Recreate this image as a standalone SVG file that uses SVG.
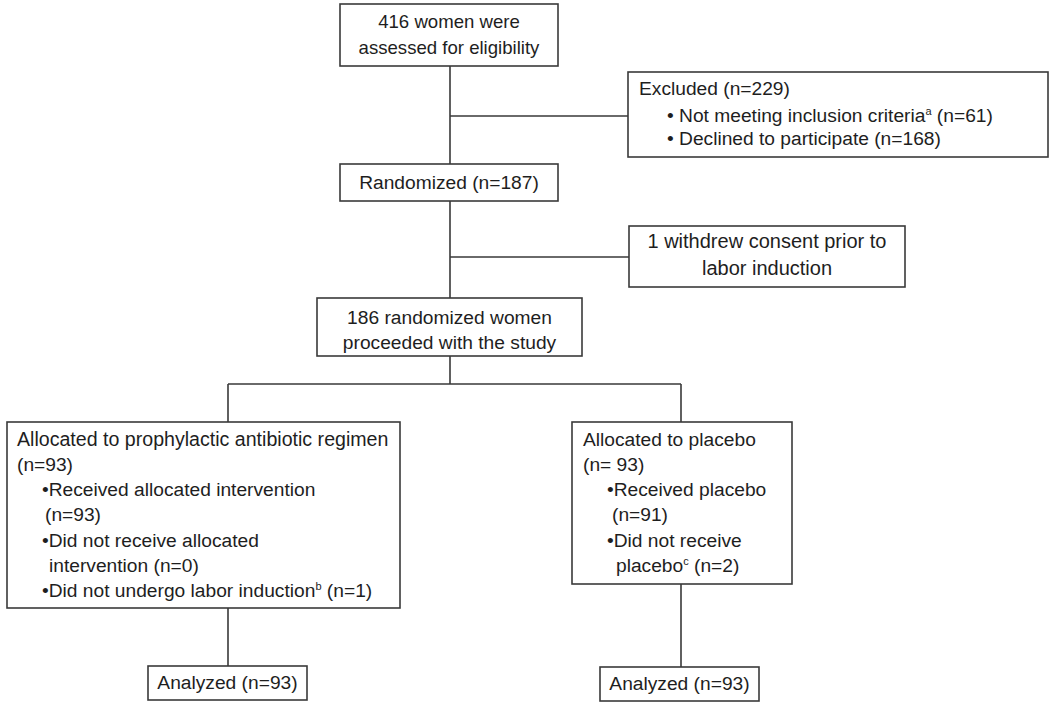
<svg xmlns="http://www.w3.org/2000/svg" width="1050" height="703" viewBox="0 0 1050 703">
<style>
.box{fill:#fff;stroke:#3a3a3a;stroke-width:1.6}
.ln{stroke:#3a3a3a;stroke-width:1.6;fill:none}
text{font-family:"Liberation Sans",Arial,sans-serif;font-size:19.2px;fill:#1e1e1e}
.c{text-anchor:middle}
.sup{font-size:11px}
</style>
<rect width="1050" height="703" fill="#fff"/>
<g id="connectors">
<path class="ln" d="M450 66V164M450 116H628M450 201V298M450 257H629M450 356V384M228 384H681M228 384V422M681 384V422M228 608V666M681 584V667"/>
</g>
<g id="assessed">
<rect class="box" x="340" y="4" width="218" height="62"/>
<text class="c" x="449" y="28" style="font-size:18.6px">416 women were</text>
<text class="c" x="449" y="54" style="font-size:18.6px">assessed for eligibility</text>
</g>
<g id="excluded">
<rect class="box" x="628" y="72" width="420" height="85"/>
<text x="639" y="95">Excluded (n=229)</text>
<text x="667" y="122">• Not meeting inclusion criteria<tspan class="sup" dy="-7">a</tspan><tspan dy="7"> (n=61)</tspan></text>
<text x="667" y="145">• Declined to participate (n=168)</text>
</g>
<g id="randomized">
<rect class="box" x="340" y="164" width="218" height="37"/>
<text class="c" x="449" y="189">Randomized (n=187)</text>
</g>
<g id="withdrew">
<rect class="box" x="629" y="226" width="276" height="61"/>
<text class="c" x="767" y="248" style="font-size:20px">1 withdrew consent prior to</text>
<text class="c" x="767" y="275" style="font-size:20px">labor induction</text>
</g>
<g id="proceeded">
<rect class="box" x="317" y="298" width="265" height="58"/>
<text class="c" x="449.5" y="324">186 randomized women</text>
<text class="c" x="449.5" y="349">proceeded with the study</text>
</g>
<g id="antibiotic">
<rect class="box" x="7" y="422" width="393" height="186"/>
<text x="17" y="446" style="font-size:19.6px">Allocated to prophylactic antibiotic regimen</text>
<text x="17" y="471">(n=93)</text>
<text x="42" y="496">•Received allocated intervention</text>
<text x="45" y="521">(n=93)</text>
<text x="42" y="547">•Did not receive allocated</text>
<text x="49" y="572">intervention (n=0)</text>
<text x="42" y="597">•Did not undergo labor induction<tspan class="sup" dy="-7">b</tspan><tspan dy="7"> (n=1)</tspan></text>
</g>
<g id="placebo">
<rect class="box" x="572" y="422" width="220" height="162"/>
<text x="583" y="446">Allocated to placebo</text>
<text x="583" y="471">(n= 93)</text>
<text x="607" y="496">•Received placebo</text>
<text x="612" y="521">(n=91)</text>
<text x="607" y="547">•Did not receive</text>
<text x="616" y="572">placebo<tspan class="sup" dy="-7">c</tspan><tspan dy="7"> (n=2)</tspan></text>
</g>
<g id="analyzed-left">
<rect class="box" x="148" y="666" width="159" height="34"/>
<text class="c" x="227.5" y="689">Analyzed (n=93)</text>
</g>
<g id="analyzed-right">
<rect class="box" x="600" y="667" width="159" height="34"/>
<text class="c" x="679.5" y="690">Analyzed (n=93)</text>
</g>
</svg>
